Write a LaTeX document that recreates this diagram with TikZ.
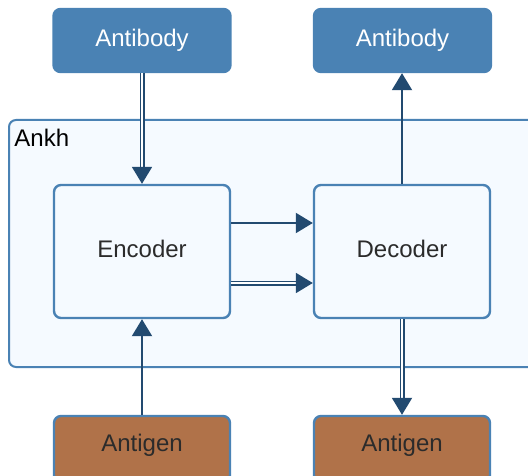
\documentclass[tikz,border=0pt]{standalone}
\usepackage{fontspec}
\setmainfont{Liberation Sans}
\usetikzlibrary{arrows.meta}
\definecolor{boxblue}{HTML}{4A82B4}
\definecolor{lightfill}{HTML}{F5FAFF}
\definecolor{brownfill}{HTML}{B07249}
\definecolor{arrowc}{HTML}{224A70}
\definecolor{txt}{HTML}{2B2B2B}
\begin{document}
\begin{tikzpicture}[x=0.5pt,y=-0.5pt,
  every node/.style={font=\fontsize{12}{14}\selectfont},
  bluebox/.style={draw=boxblue, fill=boxblue, line width=1.2pt, rounded corners=3.5pt,
    minimum width=88.5pt, minimum height=31.5pt, inner sep=0pt, text=white},
  modbox/.style={draw=boxblue, fill=lightfill, line width=1.2pt, rounded corners=3.5pt,
    minimum width=88pt, minimum height=66.5pt, inner sep=0pt, text=txt},
  agbox/.style={draw=boxblue, fill=brownfill, line width=1.2pt, rounded corners=3.5pt,
    minimum width=88pt, minimum height=33pt, inner sep=0pt},
  container/.style={draw=boxblue, fill=lightfill, line width=1pt, rounded corners=3.5pt,
    minimum width=268pt, minimum height=123.5pt, inner sep=0pt},
  sarrow/.style={draw=arrowc, line width=1pt, -{Triangle[length=8.5pt,width=10pt]}},
  darrow/.style={draw=arrowc, line width=0.95pt, double=white, double distance=0.6pt,
    -{Triangle[length=8.5pt,width=10pt]}}
]
\useasboundingbox (0,0) rectangle (528,475);
\clip (0,0) rectangle (528,475);
\node[container, label={[anchor=north west, inner sep=0pt, text=black, xshift=3pt, yshift=-5pt]north west:Ankh}] (ankh) at (277,243.5) {};
\node[bluebox] (ab1) at (142,40.5) {\raisebox{1pt}{Antibody}};
\node[bluebox] (ab2) at (402.5,40.5) {\raisebox{1pt}{Antibody}};
\node[modbox] (enc) at (142,251.5) {\raisebox{3pt}{Encoder}};
\node[modbox] (dec) at (402,251.5) {\raisebox{3pt}{Decoder}};
\node[agbox, label={[text=txt, yshift=2pt]center:Antigen}] (ag1) at (142,449) {};
\node[agbox, label={[text=txt, yshift=2pt]center:Antigen}] (ag2) at (402,449) {};
\draw[darrow] (ab1.south) -- (enc.north);
\draw[sarrow] (dec.north) -- (dec.north |- ab2.south);
\draw[sarrow] ([yshift=14.25pt]enc.east) -- ([yshift=14.25pt]dec.west);
\draw[darrow] ([yshift=-15.75pt]enc.east) -- ([yshift=-15.75pt]dec.west);
\draw[sarrow] (ag1.north) -- (enc.south);
\draw[darrow] (dec.south) -- (ag2.north);
\end{tikzpicture}
\end{document}
